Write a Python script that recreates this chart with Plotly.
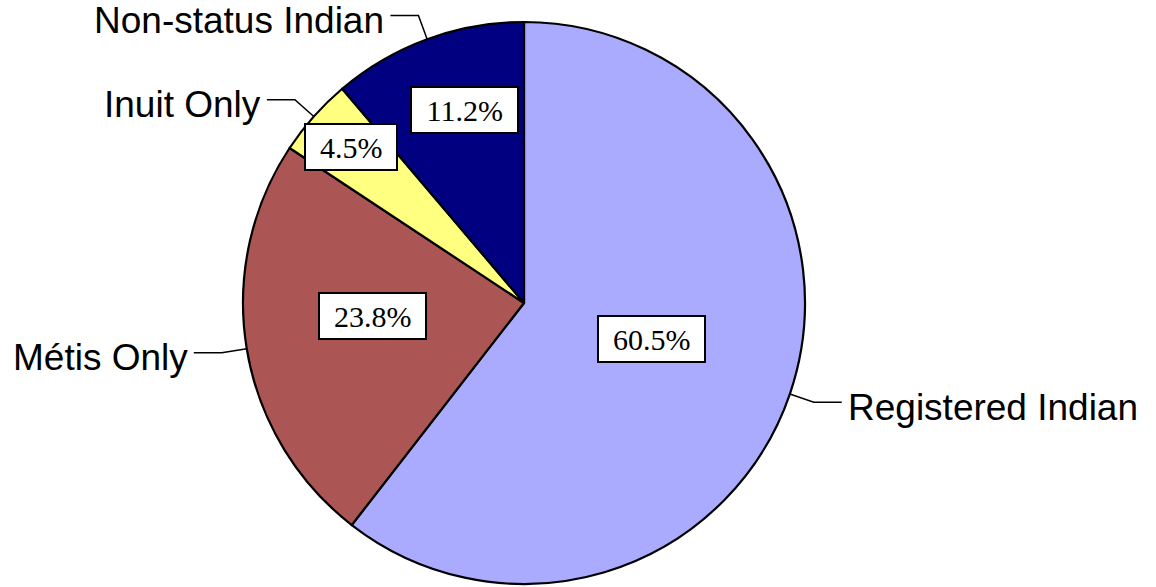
import math
import plotly.graph_objects as go

# ---- data ----
categories = ["Registered Indian", "Métis Only", "Inuit Only", "Non-status Indian"]
shares = [60.5, 23.8, 4.5, 11.2]
pct_labels = ["60.5%", "23.8%", "4.5%", "11.2%"]
colors = ["#AAAAFF", "#AB5555", "#FFFF80", "#000080"]
# style: placement of the boxed % labels (fraction of radius, angle nudge in degrees)
label_radius = [0.47, 0.54, 0.83, 0.72]
label_nudge = [-3.0, 4.5, 0.5, 3.0]

W, H = 1156, 587
# pie area in pixels
PX0, PX1, PY0, PY1 = 243, 805, 22, 584
cx, cy = (PX0 + PX1) / 2, (PY0 + PY1) / 2
R = min(PX1 - PX0, PY1 - PY0) / 2


def px(x):
    return x / W


def py(y):
    return 1 - y / H


fig = go.Figure(
    go.Pie(
        labels=categories,
        values=shares,
        sort=False,
        direction="clockwise",
        rotation=0,
        textinfo="none",
        hoverinfo="label+percent",
        marker=dict(colors=colors, line=dict(color="black", width=2.2)),
        domain=dict(x=[px(PX0), px(PX1)], y=[py(PY1), py(PY0)]),
        showlegend=False,
    )
)

total = sum(shares)
annotations = []
shapes = []
cum = 0.0
char_w = {"%": 0.833, ".": 0.25}
for cat, val, lab, lr, nd in zip(categories, shares, pct_labels, label_radius, label_nudge):
    mid = (cum + val / 2) / total * 2 * math.pi
    cum += val
    s, c = math.sin(mid), math.cos(mid)
    # boxed percentage label
    fs = 30
    tw = sum(char_w.get(ch, 0.5) for ch in lab) * fs
    la = mid + math.radians(nd)
    lx, ly = cx + math.sin(la) * R * lr, cy - math.cos(la) * R * lr
    annotations.append(dict(
        x=px(lx), y=py(ly), xref="paper", yref="paper", text=lab, showarrow=False,
        font=dict(family="Liberation Serif, Times New Roman, serif", size=fs, color="black"),
        bgcolor="#FFFFFF", bordercolor="black", borderwidth=2, borderpad=0,
        width=tw + 28, height=44, xanchor="center", yanchor="middle",
    ))
    # leader line
    ex, ey = cx + s * R, cy - c * R
    bx, by = cx + s * R * 1.09, cy - c * R * 1.09
    side = 1 if s > 0 else -1
    hx = bx + side * 28
    shapes.append(dict(
        type="path", xref="paper", yref="paper",
        path=f"M {px(ex)},{py(ey)} L {px(bx)},{py(by)} L {px(hx)},{py(by)}",
        line=dict(color="black", width=1.5),
    ))
    annotations.append(dict(
        x=px(hx + side * 4), y=py(by + 5), xref="paper", yref="paper", text=cat,
        showarrow=False,
        font=dict(family="Liberation Sans, Arial, sans-serif", size=37, color="black"),
        xanchor="left" if side > 0 else "right", yanchor="middle",
    ))

fig.update_layout(
    width=W, height=H,
    margin=dict(l=0, r=0, t=0, b=0),
    paper_bgcolor="white", plot_bgcolor="white",
    annotations=annotations, shapes=shapes,
)

fig.write_html("out.html", config={"displayModeBar": False},
               post_script="document.body.style.margin='0px';")
